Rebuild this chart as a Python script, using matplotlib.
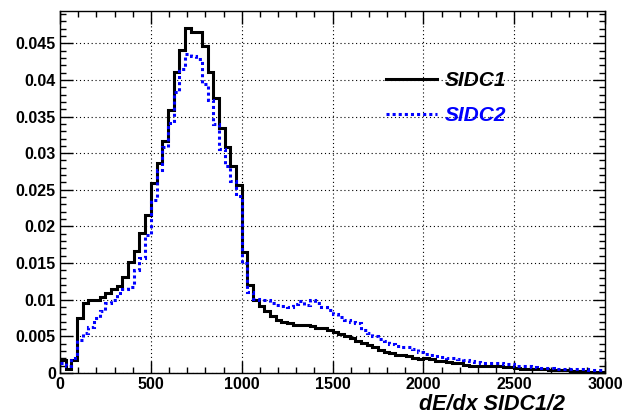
import numpy as np
import matplotlib
matplotlib.use("Agg")
import matplotlib.pyplot as plt
from matplotlib.lines import Line2D
from matplotlib.ticker import MultipleLocator, FuncFormatter

# histogram range: 96 bins over 0-3000
x_min, x_max, n_bins = 0, 3000, 96

sidc1 = [0.0018, 0.0005, 0.0018, 0.0075, 0.0096, 0.0099, 0.0100, 0.0104, 0.0109, 0.0114,
         0.0119, 0.0131, 0.0152, 0.0166, 0.0191, 0.0216, 0.0259, 0.0287, 0.0316, 0.0359,
         0.0411, 0.0441, 0.0471, 0.0466, 0.0465, 0.0446, 0.0411, 0.0375, 0.0334, 0.0309,
         0.0282, 0.0256, 0.0165, 0.0120, 0.0100, 0.0091, 0.0084, 0.0078, 0.0073, 0.0070,
         0.0068, 0.0066, 0.0065, 0.0065, 0.0064, 0.0062, 0.0061, 0.0059, 0.0056, 0.0053,
         0.0050, 0.0048, 0.0044, 0.0041, 0.0038, 0.0035, 0.0032, 0.0029, 0.0027, 0.0025,
         0.0024, 0.0023, 0.0021, 0.0019, 0.0021, 0.0019, 0.0017, 0.0016, 0.0015, 0.0014,
         0.0013, 0.0011, 0.0010, 0.0010, 0.0009, 0.0009, 0.0009, 0.0009, 0.0008, 0.0008,
         0.0007, 0.0006, 0.0006, 0.0005, 0.0005, 0.0005, 0.0004, 0.0004, 0.0004, 0.0004,
         0.0003, 0.0003, 0.0003, 0.0002, 0.0002, 0.0002]

sidc2 = [0.0014, 0.0009, 0.0020, 0.0045, 0.0055, 0.0063, 0.0075, 0.0085, 0.0095, 0.0100,
         0.0109, 0.0115, 0.0118, 0.0141, 0.0157, 0.0188, 0.0236, 0.0277, 0.0309, 0.0341,
         0.0383, 0.0415, 0.0436, 0.0432, 0.0428, 0.0395, 0.0372, 0.0340, 0.0305, 0.0283,
         0.0262, 0.0242, 0.0150, 0.0110, 0.0101, 0.0100, 0.0099, 0.0096, 0.0093, 0.0091,
         0.0090, 0.0094, 0.0098, 0.0093, 0.0099, 0.0096, 0.0090, 0.0086, 0.0081, 0.0077,
         0.0073, 0.0070, 0.0068, 0.0059, 0.0055, 0.0051, 0.0047, 0.0044, 0.0039, 0.0037,
         0.0036, 0.0036, 0.0033, 0.0028, 0.0026, 0.0025, 0.0023, 0.0022, 0.0020, 0.0020,
         0.0019, 0.0018, 0.0016, 0.0015, 0.0014, 0.0014, 0.0013, 0.0013, 0.0012, 0.0012,
         0.0010, 0.0010, 0.0009, 0.0008, 0.0007, 0.0007, 0.0007, 0.0006, 0.0006, 0.0006,
         0.0006, 0.0005, 0.0005, 0.0004, 0.0004, 0.0004]

labels = ['SIDC1', 'SIDC2']
x_title = 'dE/dx SIDC1/2'

edges = np.linspace(x_min, x_max, n_bins + 1)

plt.rcParams['font.family'] = ['Liberation Sans', 'DejaVu Sans']

fig = plt.figure(figsize=(6.23, 4.16), dpi=100)
ax = fig.add_axes([60 / 623, 1 - 373 / 416, 545 / 623, 362 / 416])

ax.stairs(sidc1, edges, baseline=None, color='black', linewidth=2.2, zorder=3)
ax.stairs(sidc2, edges, baseline=None, color='#0000ff', linewidth=2.2,
          linestyle=(0, (1, 1)), zorder=4)

ax.set_xlim(x_min, x_max)
ax.set_ylim(0, 0.0494)

ax.xaxis.set_major_locator(MultipleLocator(500))
ax.xaxis.set_minor_locator(MultipleLocator(100))
ax.yaxis.set_major_locator(MultipleLocator(0.005))
ax.yaxis.set_minor_locator(MultipleLocator(0.001))
ax.yaxis.set_major_formatter(FuncFormatter(lambda v, p: '%g' % round(v, 4)))
ax.xaxis.set_major_formatter(FuncFormatter(lambda v, p: '%d' % v))

ax.grid(True, which='major', color='black', linestyle=(0, (1, 2.5)), linewidth=0.8)
ax.set_axisbelow(True)

ax.tick_params(which='both', direction='in', top=True, right=True, width=1, colors='black')
ax.tick_params(which='major', length=9)
ax.tick_params(which='minor', length=4.5)
ax.tick_params(axis='x', pad=3, labelsize=11.5)
ax.tick_params(axis='y', pad=3, labelsize=11.5)
for lab in ax.get_xticklabels() + ax.get_yticklabels():
    lab.set_fontweight('bold')

for sp in ax.spines.values():
    sp.set_linewidth(1)
    sp.set_color('black')

ax.set_xlabel(x_title, fontsize=15.5, fontweight='bold', fontstyle='italic')
ax.xaxis.set_label_coords(0.927, -0.058)
ax.xaxis.label.set_horizontalalignment('right')

handles = [Line2D([], [], color='black', linewidth=2.2),
           Line2D([], [], color='#0000ff', linewidth=2.2, linestyle=(0, (1, 1)))]
leg = fig.legend(handles, labels, loc='center left', bbox_to_anchor=(386 / 623, 1 - 98 / 416),
                 frameon=False, borderpad=0, borderaxespad=0, handlelength=2.45,
                 handletextpad=0.35, labelspacing=0.75, labelcolor='linecolor',
                 prop={'size': 15, 'weight': 'bold', 'style': 'italic'})

fig.savefig('out.png', dpi=100, facecolor='white')
